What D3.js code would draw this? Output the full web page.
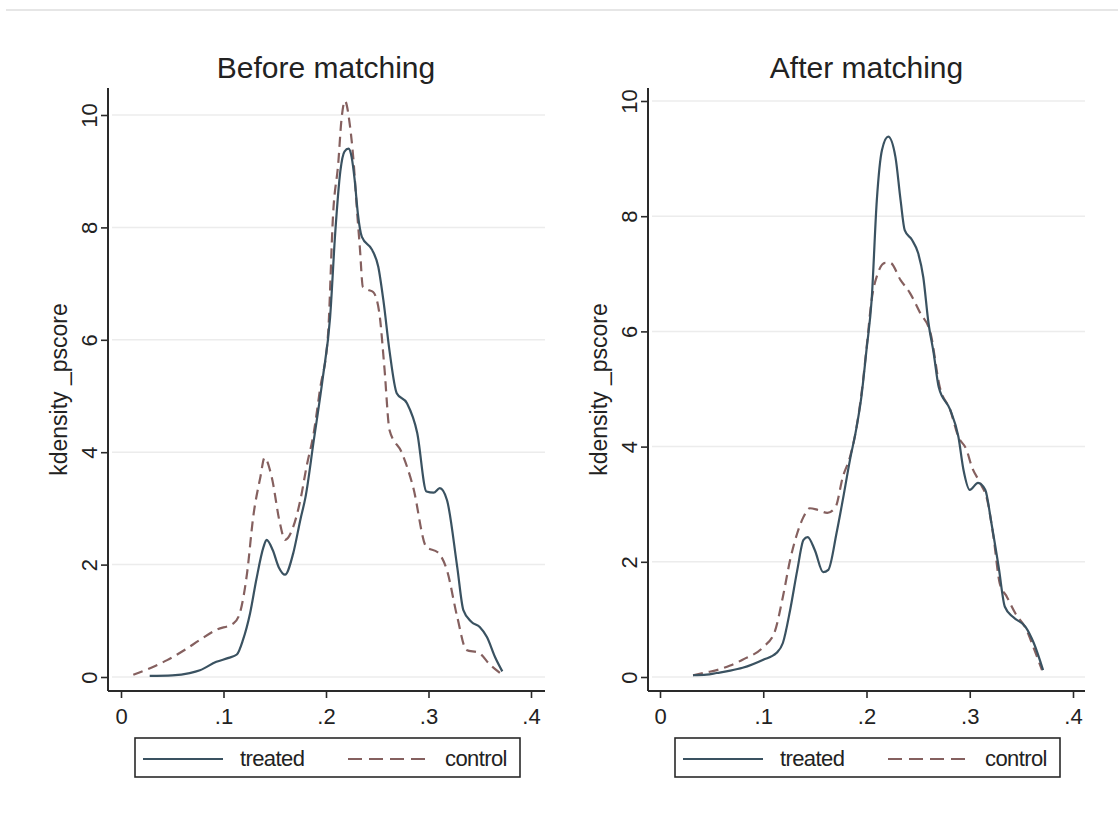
<!DOCTYPE html>
<html lang="en">
	<head>
		<meta charset="utf-8">
		<title>kdensity _pscore before / after matching</title>
		<script type="text/javascript" src="https://cdn.jsdelivr.net/npm/d3@7/dist/d3.min.js"></script>
		<style type="text/css">
			body {
				margin: 0;
				background: #ffffff;
			}
			text {
				font-family: "Liberation Sans", Arial, sans-serif;
				fill: #222;
			}
		</style>
	</head>
	<body>
		<script type="text/javascript">

			//Tick values and labels
			var xTicks = [0, 0.1, 0.2, 0.3, 0.4];
			var yTicks = [0, 2, 4, 6, 8, 10];
			var panelTitles = ["Before matching", "After matching"];
			var yLabel = "kdensity _pscore";
			var seriesNames = ["treated", "control"];

			//Density curves, [pscore, density]
			var beforeTreated = [[0.028,0.02],[0.05,0.03],[0.067,0.07],[0.077,0.12],[0.093,0.27],[0.105,0.34],[0.113,0.4],[0.119,0.66],[0.126,1.14],[0.132,1.73],[0.139,2.31],[0.142,2.44],[0.148,2.26],[0.154,1.95],[0.16,1.82],[0.168,2.2],[0.175,2.8],[0.18,3.2],[0.188,4.2],[0.197,5.34],[0.204,6.4],[0.209,7.9],[0.214,9.0],[0.218,9.35],[0.222,9.4],[0.225,9.25],[0.228,8.84],[0.231,8.26],[0.235,7.83],[0.245,7.6],[0.251,7.3],[0.256,6.7],[0.262,5.8],[0.269,5.05],[0.279,4.87],[0.289,4.34],[0.298,3.3],[0.305,3.28],[0.311,3.36],[0.318,3.15],[0.328,1.96],[0.334,1.19],[0.342,0.98],[0.35,0.89],[0.357,0.71],[0.365,0.35],[0.372,0.1]];

			var beforeControl = [[0.012,0.04],[0.03,0.17],[0.045,0.3],[0.062,0.48],[0.077,0.66],[0.093,0.84],[0.11,0.96],[0.116,1.14],[0.123,1.85],[0.129,2.85],[0.136,3.56],[0.14,3.9],[0.147,3.56],[0.155,2.74],[0.16,2.44],[0.168,2.67],[0.175,3.15],[0.181,3.74],[0.188,4.34],[0.194,5.1],[0.202,6.1],[0.207,8.26],[0.212,9.15],[0.215,9.9],[0.2185,10.25],[0.223,9.86],[0.227,9.15],[0.23,8.36],[0.233,7.65],[0.236,6.94],[0.241,6.89],[0.246,6.85],[0.252,6.48],[0.257,5.5],[0.262,4.39],[0.274,3.99],[0.285,3.38],[0.298,2.31],[0.309,2.22],[0.318,1.9],[0.328,1.07],[0.337,0.48],[0.349,0.43],[0.36,0.22],[0.37,0.07]];

			var afterTreated = [[0.032,0.03],[0.045,0.04],[0.055,0.07],[0.068,0.11],[0.08,0.16],[0.1,0.3],[0.113,0.42],[0.119,0.59],[0.126,1.16],[0.133,1.86],[0.139,2.38],[0.143,2.43],[0.15,2.2],[0.158,1.82],[0.163,1.86],[0.171,2.5],[0.177,3.07],[0.184,3.77],[0.19,4.3],[0.195,4.86],[0.2,5.68],[0.205,6.55],[0.21,8.28],[0.215,9.15],[0.221,9.38],[0.228,9.03],[0.233,8.28],[0.237,7.76],[0.244,7.59],[0.25,7.36],[0.255,6.94],[0.26,6.15],[0.265,5.63],[0.27,5.03],[0.281,4.64],[0.289,4.17],[0.294,3.59],[0.3,3.25],[0.308,3.37],[0.315,3.25],[0.321,2.67],[0.328,1.91],[0.334,1.22],[0.342,1.04],[0.354,0.87],[0.362,0.59],[0.371,0.12]];

			var afterControl = [[0.032,0.03],[0.045,0.08],[0.055,0.12],[0.068,0.2],[0.08,0.3],[0.1,0.52],[0.111,0.78],[0.119,1.39],[0.126,2.03],[0.133,2.5],[0.139,2.78],[0.145,2.93],[0.153,2.9],[0.162,2.85],[0.17,2.95],[0.177,3.47],[0.184,3.82],[0.19,4.3],[0.195,4.9],[0.2,5.7],[0.205,6.55],[0.211,7.01],[0.218,7.19],[0.223,7.19],[0.233,6.89],[0.242,6.67],[0.252,6.32],[0.262,5.97],[0.271,5.03],[0.281,4.64],[0.289,4.17],[0.297,3.94],[0.302,3.65],[0.31,3.37],[0.317,3.07],[0.323,2.43],[0.329,1.63],[0.336,1.39],[0.344,1.11],[0.355,0.82],[0.362,0.5],[0.37,0.12]];

			//Width and height of SVG canvas
			var w = 1118;
			var h = 818;

			//Line colours
			var treatedColor = "#3a5261";
			var controlColor = "#85605f";
			var axisColor = "#2a2a2a";

			//Panel layout (pixel boxes for each graph)
			var panels = [
				{ title: panelTitles[0], treated: beforeTreated, control: beforeControl,
				  axisX: 108, axisTop: 88, axisBottom: 691, right: 545,
				  x0: 121, x1: 531, y0: 677, y1: 115, legendX: 135 },
				{ title: panelTitles[1], treated: afterTreated, control: afterControl,
				  axisX: 648, axisTop: 88, axisBottom: 691, right: 1085,
				  x0: 660, x1: 1073, y0: 677, y1: 101, legendX: 675 }
			];

			//Create the SVG element for the canvas
			var svg = d3.select("body")
						.append("svg")
						.attr("width", w)
						.attr("height", h);

			//Faint rule across the top
			svg.append("line")
				.attr("x1", 6).attr("x2", w)
				.attr("y1", 10).attr("y2", 10)
				.attr("stroke", "#e6e6e6")
				.attr("stroke-width", 2);

			var xFormat = function(d) { return d === 0 ? "0" : d3.format(".1f")(d).replace(/^0/, ""); };

			panels.forEach(function(p) {

				var g = svg.append("g");

				//Scales for this panel
				var xScale = d3.scaleLinear().domain([0, 0.4]).range([p.x0, p.x1]);
				var yScale = d3.scaleLinear().domain([0, 10]).range([p.y0, p.y1]);

				//Horizontal grid lines
				g.selectAll("line.grid")
					.data(yTicks)
					.enter()
					.append("line")
					.attr("class", "grid")
					.attr("x1", p.axisX + 4)
					.attr("x2", p.right)
					.attr("y1", function(d) { return yScale(d); })
					.attr("y2", function(d) { return yScale(d); })
					.attr("stroke", "#ececec")
					.attr("stroke-width", 1.5);

				//Y axis
				var yAxisG = g.append("g")
					.attr("transform", "translate(" + p.axisX + ",0)")
					.call(d3.axisLeft(yScale).tickValues(yTicks).tickSize(7).tickPadding(10));
				yAxisG.select(".domain").remove();
				yAxisG.selectAll(".tick line").attr("stroke", axisColor).attr("stroke-width", 1.6);
				yAxisG.selectAll(".tick text")
					.attr("font-size", 22)
					.attr("fill", "#222")
					.attr("x", null).attr("dy", null)
					.attr("text-anchor", "middle")
					.attr("transform", "translate(-11,0) rotate(-90)");

				//X axis
				var xAxisG = g.append("g")
					.attr("transform", "translate(0," + p.axisBottom + ")")
					.call(d3.axisBottom(xScale).tickValues(xTicks).tickFormat(xFormat).tickSize(7).tickPadding(10));
				xAxisG.select(".domain").remove();
				xAxisG.selectAll(".tick line").attr("stroke", axisColor).attr("stroke-width", 1.6);
				xAxisG.selectAll(".tick text")
					.attr("font-size", 22)
					.attr("fill", "#222")
					.attr("dy", "0.72em");

				//Axis lines
				g.append("line")
					.attr("x1", p.axisX).attr("x2", p.axisX)
					.attr("y1", p.axisTop).attr("y2", p.axisBottom)
					.attr("stroke", axisColor).attr("stroke-width", 2);
				g.append("line")
					.attr("x1", p.axisX).attr("x2", p.right)
					.attr("y1", p.axisBottom).attr("y2", p.axisBottom)
					.attr("stroke", axisColor).attr("stroke-width", 2);

				//Y axis title
				g.append("text")
					.attr("transform", "translate(" + (p.axisX - 41) + "," + ((p.axisTop + p.axisBottom) / 2) + ") rotate(-90)")
					.attr("text-anchor", "middle")
					.attr("font-size", 23)
					.text(yLabel);

				//Panel title
				g.append("text")
					.attr("x", (p.x0 + p.x1) / 2)
					.attr("y", 78)
					.attr("text-anchor", "middle")
					.attr("font-size", 30)
					.text(p.title);

				//Line generator
				var line = d3.line()
					.x(function(d) { return xScale(d[0]); })
					.y(function(d) { return yScale(d[1]); })
					.curve(d3.curveMonotoneX);

				g.append("path")
					.datum(p.control)
					.attr("fill", "none")
					.attr("stroke", controlColor)
					.attr("stroke-width", 2.2)
					.attr("stroke-dasharray", "10,6")
					.attr("d", line);

				g.append("path")
					.datum(p.treated)
					.attr("fill", "none")
					.attr("stroke", treatedColor)
					.attr("stroke-width", 2.2)
					.attr("d", line);

				//Legend
				var lg = g.append("g").attr("transform", "translate(" + p.legendX + ",738)");
				lg.append("rect")
					.attr("width", 385).attr("height", 39)
					.attr("fill", "#fff")
					.attr("stroke", axisColor).attr("stroke-width", 1.6);
				lg.append("line")
					.attr("x1", 8).attr("x2", 88).attr("y1", 21).attr("y2", 21)
					.attr("stroke", treatedColor).attr("stroke-width", 2);
				lg.append("text")
					.attr("x", 105).attr("y", 28)
					.attr("font-size", 22).attr("letter-spacing", -0.6)
					.text(seriesNames[0]);
				lg.append("line")
					.attr("x1", 213).attr("x2", 295).attr("y1", 21).attr("y2", 21)
					.attr("stroke", controlColor).attr("stroke-width", 2)
					.attr("stroke-dasharray", "14,7");
				lg.append("text")
					.attr("x", 310).attr("y", 28)
					.attr("font-size", 22).attr("letter-spacing", -0.6)
					.text(seriesNames[1]);
			});

		</script>
	</body>
</html>
